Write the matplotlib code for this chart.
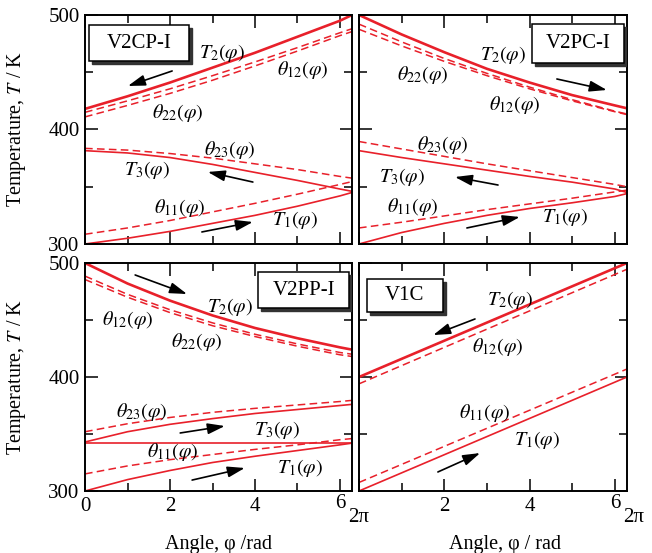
import numpy as np
import matplotlib
matplotlib.use('Agg')
import matplotlib.pyplot as plt
import matplotlib.transforms as mtrans
from matplotlib.patches import Rectangle

plt.rcParams['font.family'] = 'serif'
plt.rcParams['font.serif'] = ['Liberation Serif', 'DejaVu Serif']
plt.rcParams['mathtext.fontset'] = 'stix'

# angle samples (rad), last one is 2*pi
phi = [0, 1, 2, 3, 4, 5, 6, 6.283]

# V2CP-I
cp_T2 = [418, 429, 441, 454, 467, 481, 495, 500]
cp_th12 = [415, 425, 435.5, 447, 459, 471.5, 484.5, 488]
cp_th22 = [411, 421, 431.5, 443, 455.5, 468.5, 482, 485.5]
cp_T3 = [381.5, 379.5, 375.5, 369.5, 362.5, 355.5, 348, 346]
cp_th23 = [383.5, 382, 379, 375, 370, 365, 359, 357.5]
cp_T1 = [300, 305, 311, 318, 325, 333, 342, 345]
cp_th11 = [308.5, 314, 320.5, 328, 335.5, 343.5, 352, 354.5]

# V2PC-I
pc_T2 = [500, 483, 467.5, 453, 441, 430, 421, 418.5]
pc_th22 = [492, 476.5, 462, 449, 437, 426, 416, 413.5]
pc_th12 = [487.5, 473, 459.5, 447, 435.5, 425, 415.5, 413]
pc_T3 = [381.5, 375.5, 370, 364.5, 359, 354, 348, 345]
pc_th23 = [389.5, 383, 376.5, 370, 364, 358, 352, 350]
pc_T1 = [300, 310, 318, 325, 331, 336, 341.5, 344]
pc_th11 = [314, 319, 324.5, 330, 335, 340, 345.5, 347]

# V2PP-I
pp_T2 = [500, 482, 467, 454, 443, 434, 426, 424]
pp_th12 = [488.5, 472.5, 459, 447.5, 437.5, 429, 421.5, 420]
pp_th22 = [485.5, 470, 456.5, 445, 435.5, 427, 419.5, 418]
pp_T3 = [343, 352, 358.5, 363.5, 368, 371.5, 375, 376]
pp_th23 = [352, 359, 364.5, 369, 372.5, 375.5, 378.5, 379.5]
pp_flat = [342, 342, 342, 342, 342, 342, 342, 342]
pp_T1 = [300, 310, 318, 325, 330.5, 335.5, 340.5, 342]
pp_th11 = [315, 322, 327.5, 332, 336.5, 340.5, 345, 346]

# V1C (straight lines, ends only)
v1c_phi = [0, 6.283]
v1c_T2 = [400, 500]
v1c_th12 = [394, 494.5]
v1c_T1 = [300, 400]
v1c_th11 = [307.5, 407]

RED = '#e8202a'

fig = plt.figure(figsize=(6.52, 5.53), dpi=100)
ax_cp = fig.add_axes([0.1304, 0.5588, 0.4095, 0.4141])
ax_pc = fig.add_axes([0.5506, 0.5588, 0.4110, 0.4141])
ax_pp = fig.add_axes([0.1304, 0.1121, 0.4095, 0.4123])
ax_v1 = fig.add_axes([0.5506, 0.1121, 0.4110, 0.4123])


def setup(ax, left, bottom):
    ax.set_xlim(0, 2 * np.pi)
    ax.set_ylim(300, 500)
    ax.set_xticks([0, 2, 4, 6])
    ax.set_xticks([1, 3, 5], minor=True)
    ax.set_yticks([300, 400, 500])
    ax.set_yticks([350, 450], minor=True)
    ax.tick_params(which='both', direction='in', top=True, right=True,
                   width=1.1, labelsize=15, pad=4)
    ax.tick_params(which='major', length=9)
    ax.tick_params(which='minor', length=5.5)
    for s in ax.spines.values():
        s.set_linewidth(1.4)
    if bottom:
        if left:
            ax.set_xticklabels(['0', '2', '4', '6'])
            ax.set_xlabel('Angle, φ /rad', fontsize=14.5)
            ax.xaxis.set_label_coords(0.5, -0.195)
        else:
            ax.set_xticklabels(['', '2', '4', '6'])
            ax.set_xlabel('Angle, φ / rad', fontsize=14.5)
            ax.xaxis.set_label_coords(0.545, -0.195)
        # the 6 label sits a little high, 2pi a little low
        ax.get_xticklabels()[-1].set_y(0.01)
        tr = mtrans.blended_transform_factory(ax.transData, ax.transAxes)
        tr = mtrans.offset_copy(tr, fig=fig, x=7, y=-26, units='dots')
        ax.text(2 * np.pi, 0, '2π', transform=tr, ha='center', va='center',
                fontsize=15)
    else:
        ax.tick_params(labelbottom=False)
    if left:
        ax.set_ylabel('Temperature, $T$ / K', fontsize=14.5)
        ax.yaxis.set_label_coords(-0.213, 0.5)
    else:
        ax.tick_params(labelleft=False)


def solid(ax, y, x=phi, lw=1.2):
    ax.plot(x, y, color=RED, lw=lw, solid_capstyle='butt')


def dashed(ax, y, x=phi):
    ax.plot(x, y, color=RED, lw=1.1, dashes=(5, 2.8))


def label(ax, x, y, s):
    ax.text(x, y, s, ha='center', va='center', fontsize=14.5)


def arrow(ax, x0, y0, x1, y1):
    ax.annotate('', xy=(x1, y1), xytext=(x0, y0),
                arrowprops=dict(arrowstyle='-|>,head_length=0.95,head_width=0.3',
                                color='k', lw=1.2, mutation_scale=11,
                                shrinkA=0, shrinkB=0))


def namebox(ax, x0, x1, y0, y1, s):
    sh = ax.transAxes + mtrans.ScaledTranslation(3 / 100, -3 / 100, fig.dpi_scale_trans)
    ax.add_patch(Rectangle((x0, y0), x1 - x0, y1 - y0, transform=sh,
                           facecolor='#333333', edgecolor='#333333', lw=1, zorder=5))
    ax.add_patch(Rectangle((x0, y0), x1 - x0, y1 - y0, transform=ax.transAxes,
                           facecolor='white', edgecolor='k', lw=1.1, zorder=6))
    ax.text((x0 + x1) / 2, (y0 + y1) / 2, s, transform=ax.transAxes,
            ha='center', va='center', fontsize=15, zorder=7)


# V2CP-I
ax = ax_cp
setup(ax, True, False)
solid(ax, cp_T2, lw=1.9)
dashed(ax, cp_th12)
dashed(ax, cp_th22)
solid(ax, cp_T3)
dashed(ax, cp_th23)
solid(ax, cp_T1)
dashed(ax, cp_th11)
namebox(ax, 0.015, 0.39, 0.799, 0.956, 'V2CP-I')
label(ax, 3.22, 466.8, r'$T_2(\varphi)$')
label(ax, 5.13, 452, r'$\theta_{12}(\varphi)$')
label(ax, 2.19, 414.4, r'$\theta_{22}(\varphi)$')
label(ax, 3.41, 382, r'$\theta_{23}(\varphi)$')
label(ax, 1.46, 364.6, r'$T_3(\varphi)$')
label(ax, 2.24, 331.4, r'$\theta_{11}(\varphi)$')
label(ax, 4.94, 321, r'$T_1(\varphi)$')
arrow(ax, 2.05, 451.1, 1.01, 438)
arrow(ax, 3.95, 354.1, 2.89, 362.9)
arrow(ax, 2.75, 310.5, 3.95, 319.2)

# V2PC-I
ax = ax_pc
setup(ax, False, False)
solid(ax, pc_T2, lw=1.9)
dashed(ax, pc_th22)
dashed(ax, pc_th12)
solid(ax, pc_T3)
dashed(ax, pc_th23)
solid(ax, pc_T1)
dashed(ax, pc_th11)
namebox(ax, 0.646, 0.99, 0.79, 0.961, 'V2PC-I')
label(ax, 3.38, 465.1, r'$T_2(\varphi)$')
label(ax, 1.5, 447.6, r'$\theta_{22}(\varphi)$')
label(ax, 3.66, 421.4, r'$\theta_{12}(\varphi)$')
label(ax, 1.97, 386.5, r'$\theta_{23}(\varphi)$')
label(ax, 1.0, 358.5, r'$T_3(\varphi)$')
label(ax, 1.27, 332.3, r'$\theta_{11}(\varphi)$')
label(ax, 4.83, 323.6, r'$T_1(\varphi)$')
arrow(ax, 4.64, 444.1, 5.81, 434.5)
arrow(ax, 3.26, 351.5, 2.25, 358.5)
arrow(ax, 2.53, 314, 3.77, 323.6)

# V2PP-I
ax = ax_pp
setup(ax, True, True)
solid(ax, pp_T2, lw=1.9)
dashed(ax, pp_th12)
dashed(ax, pp_th22)
solid(ax, pp_T3)
dashed(ax, pp_th23)
solid(ax, pp_flat)
solid(ax, pp_T1)
dashed(ax, pp_th11)
namebox(ax, 0.648, 0.99, 0.803, 0.96, 'V2PP-I')
label(ax, 3.41, 461.4, r'$T_2(\varphi)$')
label(ax, 1.01, 450, r'$\theta_{12}(\varphi)$')
label(ax, 2.64, 430.7, r'$\theta_{22}(\varphi)$')
label(ax, 1.34, 369.3, r'$\theta_{23}(\varphi)$')
label(ax, 4.52, 353.5, r'$T_3(\varphi)$')
label(ax, 2.07, 334.2, r'$\theta_{11}(\varphi)$')
label(ax, 5.06, 320.2, r'$T_1(\varphi)$')
arrow(ax, 1.18, 489.5, 2.4, 472.8)
arrow(ax, 2.24, 350.9, 3.29, 357)
arrow(ax, 2.52, 309.6, 3.76, 320.2)

# V1C
ax = ax_v1
setup(ax, False, True)
solid(ax, v1c_T2, x=v1c_phi, lw=1.9)
dashed(ax, v1c_th12, x=v1c_phi)
solid(ax, v1c_T1, x=v1c_phi)
dashed(ax, v1c_th11, x=v1c_phi)
namebox(ax, 0.03, 0.313, 0.785, 0.93, 'V1C')
label(ax, 3.54, 467.5, r'$T_2(\varphi)$')
label(ax, 3.26, 426.3, r'$\theta_{12}(\varphi)$')
label(ax, 2.95, 368.4, r'$\theta_{11}(\varphi)$')
label(ax, 4.17, 344.7, r'$T_1(\varphi)$')
arrow(ax, 2.72, 450.9, 1.74, 436.8)
arrow(ax, 1.85, 316.7, 2.84, 333.3)

fig.savefig('out.png', dpi=100)
